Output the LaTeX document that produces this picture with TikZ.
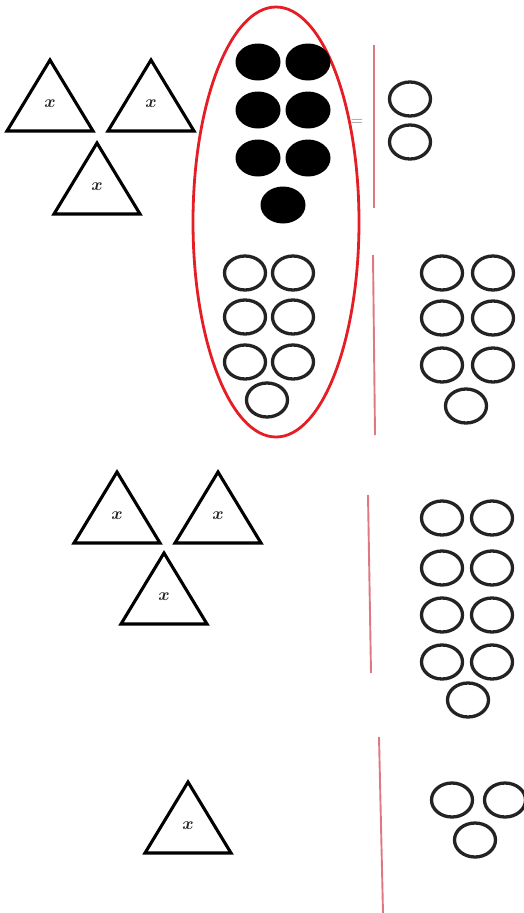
\documentclass[tikz,border=0pt]{standalone}
\usetikzlibrary{shapes.geometric}
\usepackage{bm}
\definecolor{ringred}{RGB}{228,30,36}
\definecolor{linered}{RGB}{222,120,130}
\definecolor{ink}{RGB}{35,35,35}
\tikzset{
  oc/.style={ellipse,draw=ink,line width=3.3pt,minimum width=41pt,minimum height=34pt,inner sep=0pt},
  fc/.style={ellipse,fill=black,minimum width=45pt,minimum height=37pt,inner sep=0pt},
  divider/.style={draw=linered,line width=1.9pt},
  tri/.style={draw=black,line width=3.1pt,line join=miter},
  xmark/.style={font=\fontsize{16}{16}\selectfont,inner sep=0pt,text=ink},
  tripic/.pic={
    \draw[tri] (-43,71) -- (0,0) -- (43,71) -- cycle;
    \node[xmark] (-x) at (0,44) {$\bm{x}$};
  }
}
\begin{document}
\begin{tikzpicture}[x=1pt,y=-1pt]
\useasboundingbox (0,0) rectangle (523,913);
% top-left triangles
\pic (t1) at (50,60) {tripic};
\pic (t2) at (151,60) {tripic};
\pic (t3) at (97,143) {tripic};
% red ellipse
\node[ellipse,draw=ringred,line width=2.8pt,minimum width=166pt,minimum height=430pt,inner sep=0pt] (ring) at (276,222) {};
% filled circles
\foreach \n/\x/\y in {1/258/62,2/308/62,3/258/110,4/308/110,5/258/158,6/308/158,7/283/205}
  \node[fc] (f\n) at (\x,\y) {};
% equals sign
\node[font=\fontsize{17}{17}\selectfont,text=black!55,inner sep=0pt] (eq) at (357,122) {=};
% divider 1
\coordinate (d1t) at (374,45); \coordinate (d1b) at (374,208);
\draw[divider] (d1t) -- (d1b);
\node[oc] (r1) at (410,99) {};
\node[oc] (r2) at (410,142) {};
% open circles inside ellipse
\foreach \n/\x/\y in {1/245/273,2/293/273,3/245/317,4/293/317,5/245/362,6/293/362,7/267/400}
  \node[oc] (o\n) at (\x,\y) {};
% divider 2
\coordinate (d2t) at (373,255); \coordinate (d2b) at (375,435);
\draw[divider] (d2t) -- (d2b);
\foreach \n/\x/\y in {1/442/273,2/493/273,3/442/318,4/493/318,5/442/365,6/493/365,7/466/406}
  \node[oc] (p\n) at (\x,\y) {};
% third row triangles
\pic (t4) at (117,472) {tripic};
\pic (t5) at (218,472) {tripic};
\pic (t6) at (164,553) {tripic};
% divider 3
\coordinate (d3t) at (368,495); \coordinate (d3b) at (371,673);
\draw[divider] (d3t) -- (d3b);
\foreach \n/\x/\y in {1/442/518,2/492/518,3/442/568,4/492/568,5/442/615,6/492/615,7/442/662,8/492/662,9/468/700}
  \node[oc] (q\n) at (\x,\y) {};
% bottom triangle
\pic (t7) at (188,782) {tripic};
% divider 4
\coordinate (d4t) at (379,737); \coordinate (d4b) at (383,913);
\draw[divider] (d4t) -- (d4b);
\node[oc] (s1) at (452,800) {};
\node[oc] (s2) at (505,800) {};
\node[oc] (s3) at (475,840) {};
\end{tikzpicture}
\end{document}
